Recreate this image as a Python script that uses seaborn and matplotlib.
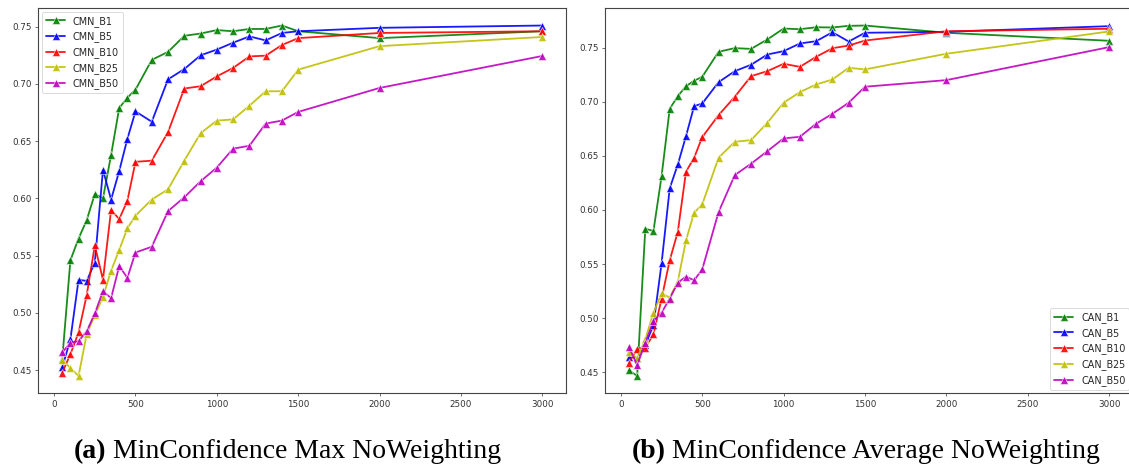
import numpy as np
import pandas as pd
import seaborn as sns
import matplotlib
matplotlib.use("Agg")
import matplotlib.pyplot as plt

x_vals = [50, 100, 150, 200, 250, 300, 350, 400, 450, 500, 600, 700, 800, 900,
          1000, 1100, 1200, 1300, 1400, 1500, 2000, 3000]

cmn_b1 = [0.460, 0.546, 0.565, 0.581, 0.604, 0.600, 0.638, 0.679, 0.688, 0.695, 0.721,
          0.728, 0.742, 0.744, 0.747, 0.746, 0.748, 0.748, 0.751, 0.746, 0.740, 0.746]
cmn_b5 = [0.4525, 0.477, 0.529, 0.528, 0.544, 0.625, 0.599, 0.624, 0.652, 0.676, 0.667,
          0.704, 0.713, 0.725, 0.730, 0.736, 0.7415, 0.738, 0.7445, 0.746, 0.749, 0.751]
cmn_b10 = [0.448, 0.464, 0.483, 0.5155, 0.559, 0.529, 0.590, 0.582, 0.598, 0.632, 0.633,
           0.658, 0.696, 0.698, 0.7066, 0.714, 0.724, 0.7247, 0.734, 0.740, 0.7445, 0.746]
cmn_b25 = [0.459, 0.452, 0.445, 0.4815, 0.498, 0.514, 0.537, 0.555, 0.574, 0.585, 0.599,
           0.608, 0.633, 0.657, 0.668, 0.669, 0.681, 0.6936, 0.6936, 0.7125, 0.733, 0.741]
cmn_b50 = [0.4655, 0.474, 0.4754, 0.484, 0.4996, 0.519, 0.513, 0.541, 0.5307, 0.5528, 0.5578,
           0.589, 0.601, 0.615, 0.627, 0.6435, 0.646, 0.6654, 0.668, 0.6756, 0.6965, 0.7244]

can_b1 = [0.4517, 0.4465, 0.5827, 0.5805, 0.6313, 0.6936, 0.7053, 0.7145, 0.7195, 0.7232, 0.7463,
          0.7497, 0.749, 0.7577, 0.7678, 0.7672, 0.769, 0.7688, 0.7703, 0.7706, 0.7639, 0.7565]
can_b5 = [0.4644, 0.463, 0.475, 0.4936, 0.5507, 0.620, 0.6422, 0.6683, 0.696, 0.6985, 0.7182,
          0.7284, 0.7343, 0.7438, 0.7469, 0.754, 0.7561, 0.7644, 0.7558, 0.7639, 0.7648, 0.770]
can_b10 = [0.4589, 0.4718, 0.4727, 0.485, 0.518, 0.5534, 0.580, 0.6354, 0.6483, 0.6674, 0.6877,
           0.7047, 0.7238, 0.7284, 0.7352, 0.7324, 0.7417, 0.7496, 0.7521, 0.7567, 0.7653, 0.7676]
can_b25 = [0.469, 0.4628, 0.4804, 0.505, 0.5229, 0.519, 0.534, 0.5719, 0.5975, 0.6052, 0.6483,
           0.6631, 0.6646, 0.6807, 0.6992, 0.709, 0.7161, 0.7207, 0.7315, 0.730, 0.7445, 0.7651]
can_b50 = [0.4733, 0.4564, 0.4773, 0.4973, 0.505, 0.518, 0.5328, 0.5384, 0.535, 0.5451, 0.598,
           0.6323, 0.6428, 0.6544, 0.6662, 0.6677, 0.6798, 0.689, 0.6992, 0.714, 0.7201, 0.7506]

left_labels = ["CMN_B1", "CMN_B5", "CMN_B10", "CMN_B25", "CMN_B50"]
right_labels = ["CAN_B1", "CAN_B5", "CAN_B10", "CAN_B25", "CAN_B50"]
colors = ["g", "b", "r", "y", "m"]
captions = [("(a)", "MinConfidence Max NoWeighting"),
            ("(b)", "MinConfidence Average NoWeighting")]

sns.set_style("ticks")
plt.rcParams["font.family"] = ["DejaVu Sans"]


def make_df(labels, series):
    rows = []
    for lab, vals in zip(labels, series):
        for xv, yv in zip(x_vals, vals):
            rows.append({"x": xv, "y": yv, "series": lab})
    return pd.DataFrame(rows)


df_left = make_df(left_labels, [cmn_b1, cmn_b5, cmn_b10, cmn_b25, cmn_b50])
df_right = make_df(right_labels, [can_b1, can_b5, can_b10, can_b25, can_b50])

fig = plt.figure(figsize=(11.29, 4.68), dpi=100)
ax1 = fig.add_axes([0.0339, 0.1592, 0.4677, 0.8237])
ax2 = fig.add_axes([0.5359, 0.1592, 0.4677, 0.8237])

for ax, df, labels, loc in [(ax1, df_left, left_labels, "upper left"),
                            (ax2, df_right, right_labels, "lower right")]:
    sns.lineplot(data=df, x="x", y="y", hue="series", hue_order=labels,
                 palette=dict(zip(labels, colors)), marker="^", markersize=5.8,
                 markeredgewidth=0.4, linewidth=1.3, alpha=0.9, ax=ax,
                 legend=True)
    ax.set_xlabel("")
    ax.set_ylabel("")
    ax.set_xticks([0, 500, 1000, 1500, 2000, 2500, 3000])
    ax.set_yticks([0.45, 0.50, 0.55, 0.60, 0.65, 0.70, 0.75])
    ax.set_yticklabels(["0.45", "0.50", "0.55", "0.60", "0.65", "0.70", "0.75"])
    ax.tick_params(labelsize=6.3, length=2.5, width=0.6, colors="#555555",
                   labelcolor="#333333", pad=2)
    for sp in ax.spines.values():
        sp.set_linewidth(0.8)
        sp.set_color("#444444")
    handles, labs = ax.get_legend_handles_labels()
    leg = ax.legend(handles, labs, loc=loc, fontsize=6.9, frameon=True,
                    borderpad=0.4, labelspacing=0.5, handlelength=2.0,
                    borderaxespad=0.4)
    leg.get_frame().set_linewidth(0.6)
    leg.get_frame().set_edgecolor("#cccccc")

fig.canvas.draw()
renderer = fig.canvas.get_renderer()
for (tag, rest), xc in zip(captions, [0.2547, 0.767]):
    t1 = fig.text(0, 0.0214, tag, fontsize=20.0, fontweight="bold", color="black",
                  family="Liberation Serif", va="baseline", ha="left")
    t2 = fig.text(0, 0.0214, rest, fontsize=20.0, color="black",
                  family="Liberation Serif", va="baseline", ha="left")
    w1 = t1.get_window_extent(renderer).width
    w2 = t2.get_window_extent(renderer).width
    gap = 6
    total = w1 + gap + w2
    start = xc * 1129 - total / 2
    t1.set_x(start / 1129)
    t2.set_x((start + w1 + gap) / 1129)

fig.savefig("out.png", dpi=100)
